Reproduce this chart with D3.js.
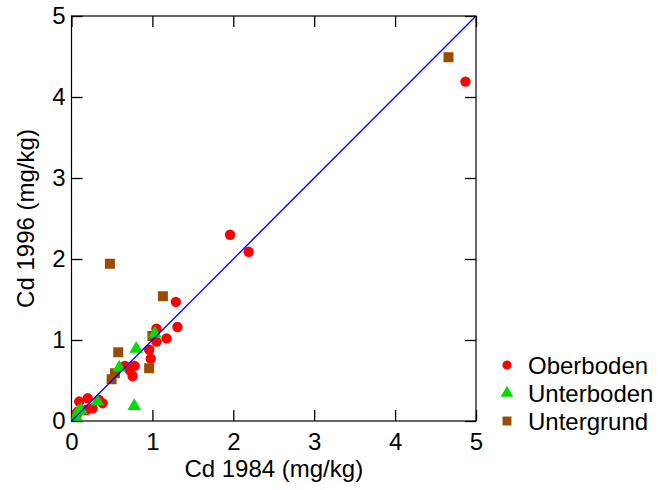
<!DOCTYPE html>
<html>
<head>
<meta charset="utf-8">
<script src="https://cdn.jsdelivr.net/npm/d3@7"></script>
<style>
  body { margin: 0; background: #fff; }
  text { font-family: "Liberation Sans", Arial, sans-serif; }
</style>
</head>
<body>
<div id="chart"></div>
<script>
// Cd 1984 vs Cd 1996 (mg/kg)
var oberboden = [
  [4.87, 4.19], [1.96, 2.30], [2.19, 2.09], [1.29, 1.47], [1.31, 1.16],
  [1.175, 1.02], [1.05, 1.14], [1.05, 0.98], [0.96, 0.88], [0.98, 0.77],
  [0.78, 0.68], [0.66, 0.68], [0.72, 0.63], [0.755, 0.555], [0.096, 0.24],
  [0.20, 0.28], [0.34, 0.26], [0.385, 0.22], [0.18, 0.136], [0.26, 0.157],
  [0.077, 0.115], [0.064, 0.074]
];
var unterboden = [
  [0.80, 0.89], [0.775, 0.185], [0.59, 0.66], [1.03, 1.08], [0.32, 0.24],
  [0.117, 0.136], [0.056, 0.053], [0.084, 0.115]
];
var untergrund = [
  [4.66, 4.49], [0.475, 1.94], [1.13, 1.54], [1.0, 1.05], [0.578, 0.85],
  [0.96, 0.65], [0.537, 0.59], [0.496, 0.515]
];
var seriesNames = ["Oberboden", "Unterboden", "Untergrund"];
var seriesColors = ["#ff0000", "#00dd00", "#9a4c00"];
var ticks = [0, 1, 2, 3, 4, 5];

var pLeft = 71.5, pRight = 476, pTop = 16, pBottom = 421;
var fontSize = "24px";

var svg = d3.select("#chart").append("svg")
  .attr("width", 658)
  .attr("height", 490);

var x = d3.scaleLinear().domain([0, 5]).range([pLeft, pRight]);
var y = d3.scaleLinear().domain([0, 5]).range([pBottom, pTop]);

// frame
svg.append("rect")
  .attr("x", pLeft).attr("y", pTop)
  .attr("width", pRight - pLeft).attr("height", pBottom - pTop)
  .attr("fill", "none").attr("stroke", "#000").attr("stroke-width", 1.2);

// inward ticks on all sides
var tl = 11;
var axB = svg.append("g").attr("transform", "translate(0," + pBottom + ")")
  .call(d3.axisBottom(x).tickValues(ticks).tickSize(-tl).tickPadding(12).tickFormat(d3.format("d")));
var axT = svg.append("g").attr("transform", "translate(0," + pTop + ")")
  .call(d3.axisTop(x).tickValues(ticks).tickSize(-tl).tickFormat(""));
var axL = svg.append("g").attr("transform", "translate(" + pLeft + ",0)")
  .call(d3.axisLeft(y).tickValues(ticks).tickSize(-tl).tickPadding(6).tickFormat(d3.format("d")));
var axR = svg.append("g").attr("transform", "translate(" + pRight + ",0)")
  .call(d3.axisRight(y).tickValues(ticks).tickSize(-tl).tickFormat(""));

[axB, axT, axL, axR].forEach(function(a) {
  a.select(".domain").remove();
  a.selectAll(".tick line").attr("stroke", "#000").attr("stroke-width", 1.3);
  a.selectAll("text").style("font-size", fontSize).attr("fill", "#000")
    .style("font-family", "'Liberation Sans', Arial, sans-serif");
});

// clip so markers don't spill outside plot
svg.append("clipPath").attr("id", "plotclip")
  .append("rect").attr("x", pLeft).attr("y", pTop)
  .attr("width", pRight - pLeft).attr("height", pBottom - pTop);

var symbols = [d3.symbolCircle, d3.symbolTriangle, d3.symbolSquare];
var sizes = [85, 80, 100];
var allSeries = [oberboden, unterboden, untergrund];

var drawOrder = [2, 0, 1];
drawOrder.forEach(function(i) {
  svg.append("g").attr("clip-path", "url(#plotclip)")
    .selectAll("path").data(allSeries[i]).enter().append("path")
    .attr("transform", function(d) { return "translate(" + x(d[0]) + "," + y(d[1]) + ")"; })
    .attr("d", d3.symbol().type(symbols[i]).size(sizes[i]))
    .attr("fill", seriesColors[i]);
});

// 1:1 line, on top of the markers
svg.append("line")
  .attr("x1", x(0)).attr("y1", y(0))
  .attr("x2", x(5)).attr("y2", y(5))
  .attr("stroke", "#0000ff").attr("stroke-width", 1.3);

// axis titles
svg.append("text")
  .attr("x", (pLeft + pRight) / 2).attr("y", 477)
  .attr("text-anchor", "middle")
  .style("font-size", fontSize)
  .text("Cd 1984 (mg/kg)");

svg.append("text")
  .attr("transform", "translate(34," + (pTop + pBottom) / 2 + ") rotate(-90)")
  .attr("text-anchor", "middle")
  .style("font-size", fontSize)
  .text("Cd 1996 (mg/kg)");

// legend
var legend = svg.selectAll(".legend")
  .data(seriesNames)
  .enter().append("g")
  .attr("class", "legend")
  .attr("transform", function(d, i) { return "translate(507," + (365 + i * 28) + ")"; });

legend.append("path")
  .attr("d", function(d, i) { return d3.symbol().type(symbols[i]).size([65, 70, 80][i])(); })
  .attr("fill", function(d, i) { return seriesColors[i]; });

legend.append("text")
  .attr("x", 21)
  .attr("dy", "0.36em")
  .style("font-size", fontSize)
  .text(function(d) { return d; });
</script>
</body>
</html>
